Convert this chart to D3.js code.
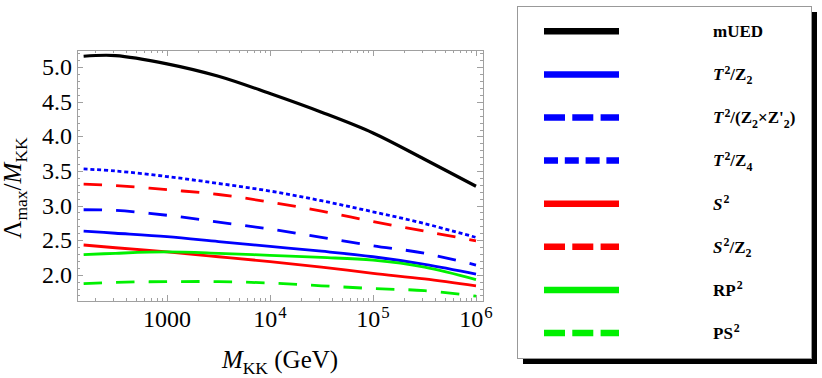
<!DOCTYPE html>
<html>
<head>
<meta charset="utf-8">
<script src="https://cdnjs.cloudflare.com/ajax/libs/d3/7.8.5/d3.min.js"></script>
<style>
  body { margin: 0; background: #fff; }
  text { font-family: "Liberation Serif", "DejaVu Serif", serif; fill: #000; }
</style>
</head>
<body>
<div id="chart"></div>
<script>
// Data: M_KK (GeV) and Lambda_max / M_KK for each model
var mkk = [155, 316, 1000, 3162, 10000, 31623, 100000, 316228, 1000000];

var mUED     = [5.16, 5.17, 5.05, 4.87, 4.62, 4.35, 4.05, 3.67, 3.28];
var t2z2     = [2.63, 2.60, 2.55, 2.48, 2.41, 2.34, 2.26, 2.15, 2.01];
var t2z2z2p  = [2.94, 2.93, 2.86, 2.76, 2.66, 2.54, 2.42, 2.31, 2.14];
var t2z4     = [3.53, 3.50, 3.42, 3.32, 3.21, 3.07, 2.91, 2.74, 2.54];
var s2       = [2.43, 2.39, 2.33, 2.26, 2.19, 2.11, 2.02, 1.94, 1.84];
var s2z2     = [3.31, 3.29, 3.23, 3.16, 3.05, 2.92, 2.77, 2.63, 2.49];
var rp2      = [2.29, 2.31, 2.33, 2.31, 2.28, 2.25, 2.21, 2.11, 1.93];
var ps2      = [1.87, 1.89, 1.90, 1.90, 1.88, 1.84, 1.80, 1.77, 1.69];

// Legend labels (*x* = italic, ^ = superscript, _ = subscript)
var seriesNames = ["mUED", "*T*^2/Z_2", "*T*^2/(Z_2×Z'_2)", "*T*^2/Z_4",
                   "*S*^2", "*S*^2/Z_2", "RP^2", "PS^2"];
var seriesValues = [mUED, t2z2, t2z2z2p, t2z4, s2, s2z2, rp2, ps2];
var seriesColors = ["#000000", "#0000ff", "#0000ff", "#0000ff", "#ff0000", "#ff0000", "#00f000", "#00f000"];
var seriesKinds  = ["solid", "solid", "dashed", "dotted", "solid", "dashed", "solid", "dashed"];

// Tick labels
var yTickValues = [2.0, 2.5, 3.0, 3.5, 4.0, 4.5, 5.0];
var xTickValues = [1000, 1e4, 1e5, 1e6];
var xTickLabels = ["1000", "10^4", "10^5", "10^6"];

// SVG area
var svgWidth = 822;
var svgHeight = 378;

var plot = { left: 77, top: 50, right: 483, bottom: 301 };

var svg = d3.select("#chart")
  .append("svg")
  .attr("width", svgWidth)
  .attr("height", svgHeight);

// write a label with italics / super / subscripts as tspans
function richText(textSel, str, size) {
  var re = /\*([^*]+)\*|\^\{([^}]*)\}|\^(.)|_\{([^}]*)\}|_(.)|([^*^_]+)/g;
  var cur = 0, m;
  while ((m = re.exec(str)) !== null) {
    var txt, kind = "n", italic = false;
    if (m[1]) { txt = m[1]; italic = true; }
    else if (m[2] || m[3]) { txt = m[2] || m[3]; kind = "sup"; }
    else if (m[4] || m[5]) { txt = m[4] || m[5]; kind = "sub"; }
    else { txt = m[6]; }
    var target = kind == "sup" ? -0.38 * size : kind == "sub" ? 0.25 * size : 0;
    textSel.append("tspan")
      .attr("dy", target - cur)
      .attr("dx", kind == "sup" ? 1 : null)
      .style("font-size", (kind == "n" ? size : 0.7 * size) + "px")
      .style("font-style", italic ? "italic" : null)
      .text(txt);
    cur = target;
  }
}

// scales
var xScale = d3.scaleLog()
  .domain([Math.pow(10, 2.126), Math.pow(10, 6.068)])
  .range([plot.left, plot.right]);

var yScale = d3.scaleLinear()
  .domain([1.62, 5.25])
  .range([plot.bottom, plot.top]);

var frameColor = "#a0a0a0";

// minor / major ticks on all four sides (pointing inwards)
var xMinor = [];
[100, 1000, 1e4, 1e5, 1e6].forEach(function(dec) {
  for (var k = 2; k <= 9; k++) xMinor.push(dec * k);
});
xMinor = xMinor.filter(d => d >= xScale.domain()[0] && d <= xScale.domain()[1]);

var yMinor = d3.range(17, 53).map(d => d / 10).filter(d => Math.round(d * 10) % 5 != 0);

var ticks = svg.append("g").attr("stroke", frameColor).attr("stroke-width", 1);

xTickValues.forEach(function(d) {
  var x = Math.round(xScale(d)) + 0.5;
  ticks.append("line").attr("x1", x).attr("x2", x).attr("y1", plot.bottom).attr("y2", plot.bottom - 6);
  ticks.append("line").attr("x1", x).attr("x2", x).attr("y1", plot.top).attr("y2", plot.top + 6);
});
xMinor.forEach(function(d) {
  var x = Math.round(xScale(d)) + 0.5;
  ticks.append("line").attr("x1", x).attr("x2", x).attr("y1", plot.bottom).attr("y2", plot.bottom - 3);
  ticks.append("line").attr("x1", x).attr("x2", x).attr("y1", plot.top).attr("y2", plot.top + 3);
});
yTickValues.forEach(function(d) {
  var y = Math.round(yScale(d)) + 0.5;
  ticks.append("line").attr("y1", y).attr("y2", y).attr("x1", plot.left).attr("x2", plot.left + 6);
  ticks.append("line").attr("y1", y).attr("y2", y).attr("x1", plot.right).attr("x2", plot.right - 6);
});
yMinor.forEach(function(d) {
  var y = Math.round(yScale(d)) + 0.5;
  ticks.append("line").attr("y1", y).attr("y2", y).attr("x1", plot.left).attr("x2", plot.left + 3);
  ticks.append("line").attr("y1", y).attr("y2", y).attr("x1", plot.right).attr("x2", plot.right - 3);
});

// frame
svg.append("rect")
  .attr("x", plot.left + 0.5)
  .attr("y", plot.top + 0.5)
  .attr("width", plot.right - plot.left)
  .attr("height", plot.bottom - plot.top)
  .attr("fill", "none")
  .attr("stroke", frameColor)
  .attr("stroke-width", 1);

// tick labels
svg.selectAll(".ylab")
  .data(yTickValues)
  .enter()
  .append("text")
  .attr("class", "ylab")
  .attr("x", 72)
  .attr("y", d => yScale(d) + 8)
  .attr("text-anchor", "end")
  .style("font-size", "24px")
  .text(d => d.toFixed(1));

xTickValues.forEach(function(d, i) {
  var t = svg.append("text")
    .attr("x", xScale(d))
    .attr("y", 327)
    .attr("text-anchor", "middle");
  richText(t, xTickLabels[i], 24);
});

// axis titles
var xTitle = svg.append("text")
  .attr("x", (plot.left + plot.right) / 2)
  .attr("y", 368)
  .attr("text-anchor", "middle");
richText(xTitle, "*M*_{KK} (GeV)", 25);

var yTitle = svg.append("text")
  .attr("transform", "translate(21, 188) rotate(-90)")
  .attr("text-anchor", "middle");
richText(yTitle, "Λ_{max}/*M*_{KK}", 25);

// lines
var dashes = { solid: null, dashed: "18.5,14", dotted: "4,2.8" };

var line = d3.line()
  .x(d => xScale(d[0]))
  .y(d => yScale(d[1]))
  .curve(d3.curveCatmullRom.alpha(0.5));

var lines = svg.append("g");
seriesValues.forEach(function(vals, i) {
  lines.append("path")
    .datum(mkk.map((m, j) => [m, vals[j]]))
    .attr("d", line)
    .attr("fill", "none")
    .attr("stroke", seriesColors[i])
    .attr("stroke-width", i == 0 ? 3.2 : 2.8)
    .attr("stroke-dasharray", dashes[seriesKinds[i]]);
});

// legend box with drop shadow
var legend = { x: 517, y: 6, w: 294, h: 352 };

svg.append("rect")
  .attr("x", legend.x + 6)
  .attr("y", legend.y + 6)
  .attr("width", legend.w)
  .attr("height", legend.h)
  .attr("fill", "#000");

svg.append("rect")
  .attr("x", legend.x + 0.5)
  .attr("y", legend.y + 0.5)
  .attr("width", legend.w)
  .attr("height", legend.h)
  .attr("fill", "#fff")
  .attr("stroke", "#999")
  .attr("stroke-width", 1);

var legendDashes = { solid: null, dashed: "21,7.3", dotted: "14,6.8" };

seriesNames.forEach(function(name, i) {
  var cy = 31.3 + i * 43.1;
  svg.append("line")
    .attr("x1", 544)
    .attr("x2", 619)
    .attr("y1", cy)
    .attr("y2", cy)
    .attr("stroke", seriesColors[i])
    .attr("stroke-width", 6.5)
    .attr("stroke-dasharray", legendDashes[seriesKinds[i]]);

  var t = svg.append("text")
    .attr("x", 713)
    .attr("y", cy + 5.8)
    .style("font-weight", "bold");
  richText(t, name, 17);
});
</script>
</body>
</html>
